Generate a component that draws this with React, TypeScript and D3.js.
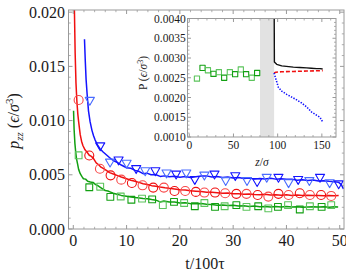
import React from "react";
import * as d3 from "d3";

// main panel: pressure p_zz vs time
const redLine: [number, number][] = [
  [0.2, 0.0205], [0.35, 0.0162], [0.5, 0.0135], [0.67, 0.0118], [0.85, 0.0106], [1.0, 0.0099],
  [1.3, 0.0087], [1.55, 0.0081], [1.8, 0.0077], [2.2, 0.0073], [2.55, 0.0071], [3.0, 0.0068],
  [3.4, 0.0067], [3.8, 0.0065], [4.3, 0.0061], [4.8, 0.0059], [5.2, 0.0057], [5.7, 0.00556],
  [6.2, 0.0054], [6.8, 0.0052], [7.4, 0.0051], [8.2, 0.00495], [9.0, 0.0048], [10.0, 0.00464],
  [10.8, 0.0045], [11.6, 0.0044], [12.3, 0.0043], [13.1, 0.00418], [13.9, 0.0041], [14.7, 0.0040],
  [15.5, 0.00395], [16.3, 0.00387], [17.2, 0.0038], [18.0, 0.00375], [19.0, 0.0037], [20.0, 0.00362],
  [21.0, 0.0036], [22.0, 0.00352], [23.0, 0.00348], [24.0, 0.00345], [25.0, 0.0034], [26.0, 0.00338],
  [27.0, 0.00335], [28.0, 0.0033], [29.0, 0.00332], [30.0, 0.00326], [31.0, 0.00325], [32.0, 0.0032],
  [33.0, 0.00322], [34.0, 0.00318], [35.0, 0.00316], [36.0, 0.0032], [37.0, 0.00314], [38.0, 0.00316],
  [39.0, 0.00312], [40.0, 0.00315], [41.0, 0.0031], [42.0, 0.00313], [43.0, 0.0031], [44.0, 0.00312],
  [45.0, 0.00308], [46.0, 0.0031], [47.0, 0.00307], [48.0, 0.0031], [49.0, 0.00306], [49.8, 0.00308],
];

const blueLine: [number, number][] = [
  [2.1, 0.0175], [2.25, 0.0155], [2.4, 0.0138], [2.6, 0.0124], [2.85, 0.0109], [3.15, 0.0099],
  [3.5, 0.0091], [3.8, 0.0086], [4.1, 0.0082], [4.6, 0.0077], [5.0, 0.0074], [5.6, 0.0071],
  [6.3, 0.0068], [7.0, 0.0065], [7.6, 0.0063], [8.2, 0.00616], [9.0, 0.0059], [10.0, 0.00565],
  [10.8, 0.0056], [11.6, 0.0054], [12.4, 0.0053], [13.1, 0.0051], [13.8, 0.00515], [14.6, 0.0050],
  [15.4, 0.00502], [16.3, 0.00485], [17.1, 0.0049], [18.0, 0.00482], [19.0, 0.00486], [20.0, 0.00478],
  [21.0, 0.00484], [22.0, 0.00476], [23.0, 0.00482], [24.0, 0.00488], [25.0, 0.0049], [26.0, 0.0048],
  [27.0, 0.00484], [28.0, 0.00476], [29.0, 0.0048], [30.0, 0.0047], [31.0, 0.00474], [32.0, 0.00466],
  [33.0, 0.0047], [34.0, 0.0046], [35.0, 0.00466], [36.0, 0.00462], [37.0, 0.00468], [38.0, 0.0046],
  [39.0, 0.00464], [40.0, 0.00458], [41.0, 0.0046], [42.0, 0.0045], [43.0, 0.00455], [44.0, 0.00448],
  [45.0, 0.00452], [46.0, 0.00442], [47.0, 0.00446], [48.0, 0.0044], [49.0, 0.00436], [49.8, 0.0043],
  [50.3, 0.0041], [50.7, 0.0037],
];

const greenLine: [number, number][] = [
  [0.05, 0.0109], [0.15, 0.0092], [0.3, 0.0079], [0.45, 0.0071], [0.6, 0.0065], [0.8, 0.006],
  [1.0, 0.0055], [1.3, 0.0051], [1.6, 0.00485], [1.9, 0.00464], [2.3, 0.0046], [2.7, 0.0044],
  [3.2, 0.00433], [3.7, 0.0043], [4.2, 0.0041], [4.6, 0.0040], [5.0, 0.00387], [5.5, 0.0037],
  [6.0, 0.00355], [6.5, 0.0035], [6.9, 0.00342], [7.5, 0.0033], [8.2, 0.0032], [9.0, 0.0031],
  [10.0, 0.00302], [10.8, 0.00296], [11.6, 0.0029], [12.4, 0.00286], [13.1, 0.00281], [13.9, 0.0028],
  [14.7, 0.00272], [15.5, 0.00266], [16.3, 0.0025], [17.0, 0.00258], [18.0, 0.0025], [19.0, 0.00248],
  [20.0, 0.0024], [21.0, 0.00242], [22.0, 0.00234], [23.0, 0.00232], [24.0, 0.00236], [25.0, 0.00228],
  [26.0, 0.00226], [27.0, 0.0022], [28.0, 0.00222], [29.0, 0.00216], [30.0, 0.0022], [31.0, 0.00212],
  [32.0, 0.00214], [33.0, 0.00208], [34.0, 0.00212], [35.0, 0.00206], [36.0, 0.00208], [37.0, 0.00204],
  [38.0, 0.00208], [39.0, 0.00202], [40.0, 0.00208], [41.0, 0.00204], [42.0, 0.00206], [43.0, 0.002],
  [44.0, 0.00204], [45.0, 0.00206], [46.0, 0.00202], [47.0, 0.00206], [48.0, 0.002], [49.0, 0.00206],
  [49.7, 0.00204],
];

const redCircles: [number, number][] = [
  [1.0, 0.0119], [3.0, 0.00678], [5.0, 0.00556], [7.0, 0.00495], [9.0, 0.00455], [11.0, 0.00424],
  [13.0, 0.00403], [15.0, 0.00382], [17.0, 0.00382], [19.0, 0.00351], [21.0, 0.00351], [23.0, 0.00342],
  [24.6, 0.00336], [26.6, 0.00336], [28.5, 0.0033], [30.6, 0.00324], [32.5, 0.00324], [34.6, 0.00314],
  [36.6, 0.00299], [38.5, 0.00324], [40.4, 0.00314], [42.5, 0.0033], [44.4, 0.00314], [46.5, 0.00314],
  [48.4, 0.00305],
];

const blueTriangles: [number, number][] = [
  [3.1, 0.0119], [5.05, 0.0077], [6.9, 0.0062], [8.5, 0.0064], [10.0, 0.0061], [11.8, 0.0056],
  [13.5, 0.0054], [15.4, 0.0054], [17.5, 0.0052], [19.3, 0.0051], [21.2, 0.0052], [22.8, 0.0046],
  [24.6, 0.005], [26.5, 0.0051], [28.6, 0.0045], [30.4, 0.00495], [32.6, 0.0045], [34.5, 0.0044],
  [36.3, 0.0048], [38.5, 0.0048], [40.4, 0.0043], [42.2, 0.0046], [44.3, 0.0045], [46.3, 0.0048],
  [48.1, 0.0043], [49.8, 0.0042],
];

const greenSquares: [number, number][] = [
  [1.0, 0.0068], [3.0, 0.00385], [5.05, 0.0039], [6.95, 0.00296], [8.9, 0.003], [10.9, 0.0027],
  [12.9, 0.0028], [14.8, 0.00273], [16.8, 0.0022], [18.9, 0.0025], [20.8, 0.0024], [22.8, 0.0021],
  [24.6, 0.0024], [26.6, 0.00204], [28.4, 0.0021], [30.6, 0.0022], [32.5, 0.00204], [34.7, 0.0021],
  [36.6, 0.0019], [38.4, 0.00204], [40.3, 0.0022], [42.5, 0.0018], [44.4, 0.0021], [46.6, 0.00204],
  [48.4, 0.0022],
];

const mainXTicks = [0, 10, 20, 30, 40, 50];
const mainYTicks = [0, 0.005, 0.01, 0.015, 0.02];

// inset: pressure profile along z
const insetSquares: [number, number][] = [
  [8.7, 0.00248], [15.0, 0.00275], [21.1, 0.00269], [27.4, 0.0026], [33.5, 0.00264], [39.5, 0.0025],
  [45.9, 0.00264], [51.9, 0.00259], [58.3, 0.00271], [64.3, 0.00259], [70.7, 0.0025], [76.8, 0.00262],
];
const insetBlack: [number, number][] = [
  [96.0, 0.0046], [96.3, 0.0029], [98.9, 0.00284], [104.6, 0.0028], [117.7, 0.00277],
  [125.0, 0.00276], [132.8, 0.00275], [138.0, 0.00274], [144.1, 0.00273], [148.0, 0.00273], [150.9, 0.00272],
];
const insetRed: [number, number][] = [
  [96.0, 0.00262], [98.0, 0.00264], [104.0, 0.00265], [118.0, 0.00266], [133.0, 0.00267], [151.0, 0.00268],
];
const insetBlue: [number, number][] = [
  [95.9, 0.00262], [97.8, 0.00248], [100.8, 0.00226], [104.6, 0.00216], [110.2, 0.00208], [115.9, 0.00201],
  [121.5, 0.00194], [127.2, 0.00186], [132.8, 0.00176], [138.5, 0.00163], [144.1, 0.00155], [147.9, 0.0015],
  [150.9, 0.00138],
];
const insetBand = [80, 96];
const insetXTicks = [0, 50, 100, 150];
const insetYTicks = [0.001, 0.0015, 0.002, 0.0025, 0.003, 0.0035, 0.004];

const FONT = "'Liberation Serif', 'Times New Roman', serif";
const FRAME = "#9a9a9a";

function Frame({ x, y, major, minor, fmt, fontSize, labelGap, big }: any) {
  const [x0, x1] = x.range();
  const [y0, y1] = y.range();
  const ml = big ? 4 : 3.5;
  const mn = big ? 2.2 : 2;
  return (
    <g>
      <rect x={x0} y={y1} width={x1 - x0} height={y0 - y1} fill="none" stroke={FRAME} strokeWidth={1} />
      {minor.x.map((t: number, i: number) => (
        <g key={"mx" + i} stroke={FRAME} strokeWidth={0.8}>
          <line x1={x(t)} x2={x(t)} y1={y0} y2={y0 - mn} />
          <line x1={x(t)} x2={x(t)} y1={y1} y2={y1 + mn} />
        </g>
      ))}
      {minor.y.map((t: number, i: number) => (
        <g key={"my" + i} stroke={FRAME} strokeWidth={0.8}>
          <line x1={x0} x2={x0 + mn} y1={y(t)} y2={y(t)} />
          <line x1={x1} x2={x1 - mn} y1={y(t)} y2={y(t)} />
        </g>
      ))}
      {major.x.map((t: number, i: number) => (
        <g key={"Mx" + i}>
          <line x1={x(t)} x2={x(t)} y1={y0} y2={y0 - ml} stroke={FRAME} />
          <line x1={x(t)} x2={x(t)} y1={y1} y2={y1 + ml} stroke={FRAME} />
          <text x={x(t)} y={y0 + labelGap.x} textAnchor="middle" fontSize={fontSize} fontFamily={FONT} fill="#1a1a1a">
            {fmt.x(t)}
          </text>
        </g>
      ))}
      {major.y.map((t: number, i: number) => (
        <g key={"My" + i}>
          <line x1={x0} x2={x0 + ml} y1={y(t)} y2={y(t)} stroke={FRAME} />
          <line x1={x1} x2={x1 - ml} y1={y(t)} y2={y(t)} stroke={FRAME} />
          <text x={x0 - labelGap.y} y={y(t)} dy="0.35em" textAnchor="end" fontSize={fontSize} fontFamily={FONT} fill="#1a1a1a">
            {fmt.y(t)}
          </text>
        </g>
      ))}
    </g>
  );
}

export default function App() {
  const x = d3.scaleLinear().domain([-0.9, 50.8]).range([68.5, 344]);
  const y = d3.scaleLinear().domain([0, 0.0202]).range([229, 10]);
  const line = d3.line<[number, number]>().x((d) => x(d[0])).y((d) => y(d[1]));

  const ix = d3.scaleLinear().domain([-2, 166]).range([187.5, 336]);
  const iy = d3.scaleLinear().domain([0.001, 0.004]).range([137, 18.5]);
  const iline = d3.line<[number, number]>().x((d) => ix(d[0])).y((d) => iy(d[1]));

  const tri = d3.symbol(d3.symbolTriangle, 36)();
  const mainMinorX = d3.range(-0, 51, 2).filter((t) => t % 10 !== 0);
  const mainMinorY = d3.range(0, 0.0201, 0.001).filter((_, i) => i % 5 !== 0);
  const insetMinorX = d3.range(0, 166, 10).filter((t) => t % 50 !== 0);
  const insetMinorY = d3.range(0.001, 0.00401, 0.0001).filter((_, i) => i % 5 !== 0);

  return (
    <svg width={346} height={274} style={{ position: "absolute", left: 0, top: 0, background: "#fff" }}>
      <defs>
        <clipPath id="mainClip">
          <rect x={68.5} y={10} width={275.5} height={219} />
        </clipPath>
        <clipPath id="insetClip">
          <rect x={187.5} y={18.5} width={148.5} height={118.5} />
        </clipPath>
      </defs>

      <g clipPath="url(#mainClip)" fill="none" strokeWidth={1.5} strokeLinejoin="round">
        <path d={line(greenLine) || ""} stroke="#12a012" />
        <path d={line(redLine) || ""} stroke="#f01010" />
        <path d={line(blueLine) || ""} stroke="#1414ff" />
        {greenSquares.map((d, i) => (
          <rect key={"s" + i} x={x(d[0]) - 3.4} y={y(d[1]) - 3.4} width={6.8} height={6.8}
            stroke={i % 2 ? "#12a012" : "#5cc45c"} strokeWidth={1.1} />
        ))}
        {redCircles.map((d, i) => (
          <circle key={"c" + i} cx={x(d[0])} cy={y(d[1])} r={4.5}
            stroke={i % 2 ? "#f01010" : "#f84848"} strokeWidth={1.1} />
        ))}
        {blueTriangles.map((d, i) => (
          <path key={"t" + i} d={tri || ""} transform={`translate(${x(d[0])},${y(d[1])}) rotate(180)`}
            stroke={i % 2 ? "#1414ff" : "#4a6cff"} strokeWidth={1.1} />
        ))}
      </g>

      <Frame x={x} y={y} big
        major={{ x: mainXTicks, y: mainYTicks }}
        minor={{ x: mainMinorX, y: mainMinorY }}
        fmt={{ x: (t: number) => String(t), y: (t: number) => t.toFixed(3) }}
        fontSize={16} labelGap={{ x: 17, y: 3.5 }} />

      <text x={205} y={269} textAnchor="middle" fontSize={16} fontFamily={FONT} fill="#1a1a1a">
        t/100τ
      </text>
      <text transform="translate(19,121) rotate(-90)" textAnchor="middle" fontSize={16} fontFamily={FONT} fill="#1a1a1a">
        <tspan fontStyle="italic">p</tspan>
        <tspan fontStyle="italic" fontSize={11} dy={4}>zz</tspan>
        <tspan dy={-4}> (</tspan>
        <tspan fontStyle="italic">ϵ</tspan>
        <tspan>/</tspan>
        <tspan fontStyle="italic">σ</tspan>
        <tspan fontSize={11} dy={-6}>3</tspan>
        <tspan dy={6}>)</tspan>
      </text>

      {/* inset */}
      <rect x={187.5} y={18.5} width={148.5} height={118.5} fill="#fff" />
      <rect x={ix(insetBand[0])} y={18.5} width={ix(insetBand[1]) - ix(insetBand[0])} height={118.5} fill="#e2e2e2" />
      <g clipPath="url(#insetClip)" fill="none" strokeLinejoin="round">
        <path d={iline(insetBlack) || ""} stroke="#111" strokeWidth={1.4} />
        <path d={iline(insetRed) || ""} stroke="#f01010" strokeWidth={1.6} strokeDasharray="4 2" />
        <path d={iline(insetBlue) || ""} stroke="#1414ff" strokeWidth={1.6} strokeDasharray="1.4 1.4" />
        {insetSquares.map((d, i) => (
          <rect key={"is" + i} x={ix(d[0]) - 2.6} y={iy(d[1]) - 2.6} width={5.2} height={5.2}
            stroke={i % 2 ? "#12a012" : "#5cc45c"} strokeWidth={1.1} />
        ))}
      </g>
      <Frame x={ix} y={iy}
        major={{ x: insetXTicks, y: insetYTicks }}
        minor={{ x: insetMinorX, y: insetMinorY }}
        fmt={{ x: (t: number) => String(t), y: (t: number) => t.toFixed(4) }}
        fontSize={11.5} labelGap={{ x: 11.5, y: 1.8 }} />
      <text x={262} y={166} textAnchor="middle" fontSize={11.5} fontFamily={FONT} fill="#1a1a1a">
        <tspan fontStyle="italic">z</tspan>/<tspan fontStyle="italic">σ</tspan>
      </text>
      <text transform="translate(147,73) rotate(-90)" textAnchor="middle" fontSize={11.5} fontFamily={FONT} fill="#1a1a1a">
        P (<tspan fontStyle="italic">ϵ</tspan>/<tspan fontStyle="italic">σ</tspan>
        <tspan fontSize={8} dy={-4}>3</tspan>
        <tspan dy={4}>)</tspan>
      </text>
    </svg>
  );
}
